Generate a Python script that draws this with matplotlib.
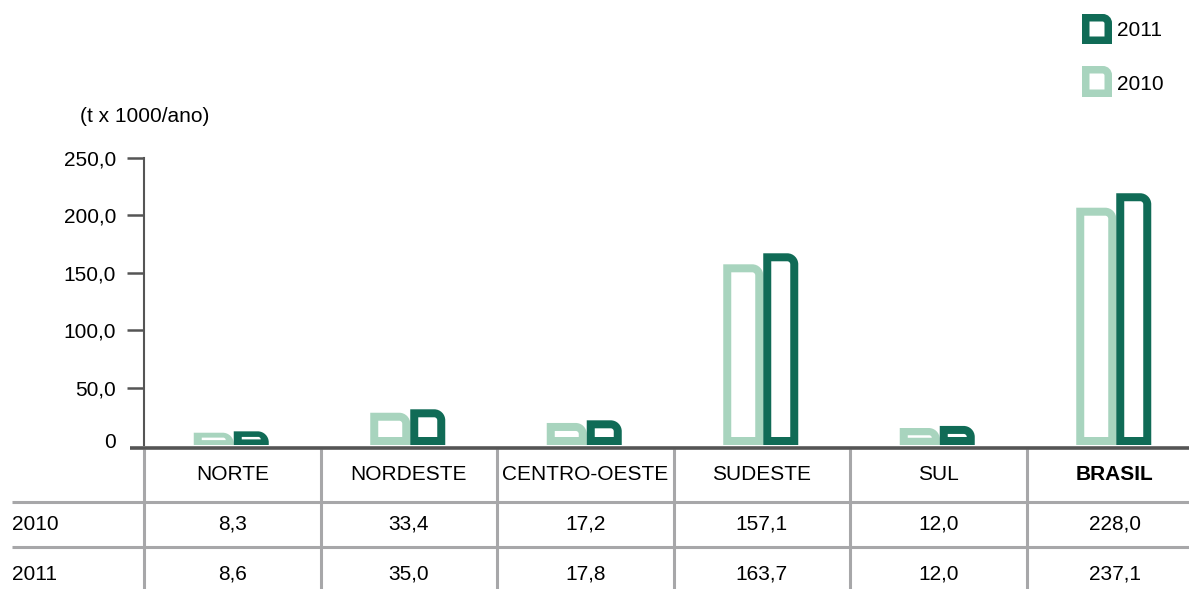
import numpy as np
import matplotlib
matplotlib.use("Agg")
import matplotlib.pyplot as plt
from matplotlib.path import Path
from matplotlib.patches import PathPatch
import matplotlib.transforms as mtransforms

plt.rcParams['font.family'] = ['Liberation Sans', 'DejaVu Sans']

# dados
regions = ['NORTE', 'NORDESTE', 'CENTRO-OESTE', 'SUDESTE', 'SUL', 'BRASIL']
years = ['2010', '2011']
vals_2010 = [8.3, 33.4, 17.2, 157.1, 12.0, 228.0]   # tabela
vals_2011 = [8.6, 35.0, 17.8, 163.7, 12.0, 237.1]
# alturas das barras como aparecem no grafico
bar_2010 = [10.7, 28.1, 19.2, 157.4, 14.8, 206.7]
bar_2011 = [11.9, 31.1, 21.5, 167.0, 16.6, 219.3]
yticks = [0, 50, 100, 150, 200, 250]
ytick_labels = ['0', '50,0', '100,0', '150,0', '200,0', '250,0']
unit_label = '(t x 1000/ano)'

c2010 = '#a8d4be'
c2011 = '#106b56'
axis_col = '#555555'
grid_col = '#a7a7a9'

W, H = 1189, 589
fig = plt.figure(figsize=(W / 100, H / 100), dpi=100)

#* main axes, positioned in pixels
ax_left, ax_right, ax_base = 144, 1189, 445
px_unit = 1.148          #? pixels per t x 1000
col_w = 176.5            #? pixels per column
ax_h = 300
ax = fig.add_axes([ax_left / W, (H - ax_base) / H, (ax_right - ax_left) / W, ax_h / H])
ax.set_xlim(-0.5, -0.5 + (ax_right - ax_left) / col_w)
ax.set_ylim(0, ax_h / px_unit)
ax.patch.set_visible(False)
for s in ['top', 'right', 'bottom']:
    ax.spines[s].set_visible(False)
ax.spines['left'].set_color(axis_col)
ax.spines['left'].set_linewidth(1.5)
ax.spines['left'].set_bounds(0, yticks[-1])
ax.set_xticks([])
ax.set_yticks(yticks)
ax.set_yticklabels(ytick_labels)
ax.tick_params(axis='y', length=12.2, width=1.8, color=axis_col, pad=8, labelsize=15)
t0 = ax.yaxis.get_major_ticks()[0]
t0.tick1line.set_visible(False)
#? the "0" label sits a little above the axis line
t0.label1.set_transform(t0.label1.get_transform() + mtransforms.ScaledTranslation(0, 0.04, fig.dpi_scale_trans))

#* overlay in pixel coords (y up)
ov = fig.add_axes([0, 0, 1, 1])
ov.set_xlim(0, W)
ov.set_ylim(0, H)
ov.axis('off')
ov.patch.set_visible(False)

def shape(x0, y0, w, h, s, r, sx=1.0, sy=1.0):
    # bar with rounded top right corner, hollow; w, h, s, r in pixels
    k = 0.5523
    r = min(r, h, w)
    outer = [(0, 0), (0, h), (w - r, h), (w - r + k * r, h), (w, h - r + k * r), (w, h - r), (w, 0), (0, 0)]
    oc = [Path.MOVETO, Path.LINETO, Path.LINETO, Path.CURVE4, Path.CURVE4, Path.CURVE4, Path.LINETO, Path.CLOSEPOLY]
    sv = min(s, (h - 2.5) / 2)
    hh, hw = h - 2 * sv, w - 2 * s
    ri = min(max(r - s, 2.0), hh, hw)
    inner = [(s, sv), (w - s, sv), (w - s, h - sv - ri), (w - s, h - sv - ri + k * ri),
             (w - s - ri + k * ri, h - sv), (w - s - ri, h - sv), (s, h - sv), (s, sv)]
    ic = [Path.MOVETO, Path.LINETO, Path.LINETO, Path.CURVE4, Path.CURVE4, Path.CURVE4, Path.LINETO, Path.CLOSEPOLY]
    v = np.array(outer + inner, dtype=float)
    v[:, 0] = x0 + v[:, 0] / sx
    v[:, 1] = y0 + v[:, 1] / sy
    return Path(v, oc + ic)

sx = ax.transData.transform((1, 0))[0] - ax.transData.transform((0, 0))[0]
sy = ax.transData.transform((0, 1))[1] - ax.transData.transform((0, 0))[1]

stroke, rad = 8, 11
for i in range(len(regions)):
    p1 = shape(i - 38.5 / sx, 0, 40, bar_2010[i] * sy, stroke, rad, sx, sy)
    ax.add_patch(PathPatch(p1, facecolor=c2010, edgecolor='none', zorder=2))
    p2 = shape(i + 1.5 / sx, 0, 35, bar_2011[i] * sy, stroke, rad, sx, sy)
    ax.add_patch(PathPatch(p2, facecolor=c2011, edgecolor='none', zorder=3))

# axis line and table lines
ov.plot([130, W], [H - 447.5] * 2, color=axis_col, lw=2.6, solid_capstyle='butt', zorder=5)
for yy in [502, 547]:
    ov.plot([12, W], [H - yy] * 2, color=grid_col, lw=2.2, solid_capstyle='butt')
for i in range(len(regions)):
    xx = ax_left + col_w * i
    ov.plot([xx, xx], [H - 449, 0], color=grid_col, lw=2.2, solid_capstyle='butt')

# table text
tr = mtransforms.blended_transform_factory(ax.transData, ov.transData)
for i, reg in enumerate(regions):
    bold = 'bold' if reg == 'BRASIL' else 'normal'
    ax.text(i, H - 475, reg, transform=tr, ha='center', va='center', fontsize=15, fontweight=bold, clip_on=False)
    ax.text(i, H - 524, f'{vals_2010[i]:.1f}'.replace('.', ','), transform=tr, ha='center', va='center', fontsize=15, clip_on=False)
    ax.text(i, H - 574, f'{vals_2011[i]:.1f}'.replace('.', ','), transform=tr, ha='center', va='center', fontsize=15, clip_on=False)
ov.text(12, H - 524, years[0], ha='left', va='center', fontsize=15)
ov.text(12, H - 574, years[1], ha='left', va='center', fontsize=15)

ov.text(80, H - 116, unit_label, ha='left', va='center', fontsize=15)

# legend
ov.add_patch(PathPatch(shape(1082, H - 44, 30, 30, 7.5, 9), facecolor=c2011, edgecolor='none'))
ov.text(1117, H - 30, years[1], ha='left', va='center', fontsize=15)
ov.add_patch(PathPatch(shape(1082, H - 97, 30, 31, 7.5, 9), facecolor=c2010, edgecolor='none'))
ov.text(1117, H - 84, years[0], ha='left', va='center', fontsize=15)

fig.savefig('out.png', dpi=100)
